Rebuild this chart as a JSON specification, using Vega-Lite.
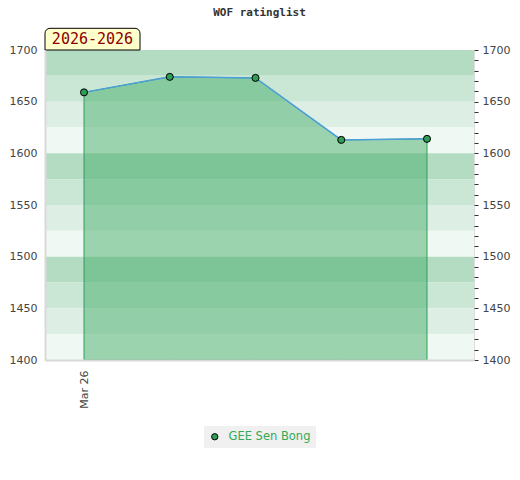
{
  "$schema": "https://vega.github.io/schema/vega-lite/v6.json",
  "autosize": "none",
  "padding": {"left": 45, "top": 50, "right": 46, "bottom": 120},
  "width": 429,
  "height": 310,
  "title": {
    "text": "WOF ratinglist",
    "font": "DejaVu Sans Mono",
    "fontWeight": "bold",
    "fontSize": 11,
    "color": "#333333",
    "frame": "group",
    "offset": 10
  },
  "datasets": {
    "ratings": [
      {"i": 0, "rating": 1659, "player": "GEE Sen Bong"},
      {"i": 1, "rating": 1674, "player": "GEE Sen Bong"},
      {"i": 2, "rating": 1673, "player": "GEE Sen Bong"},
      {"i": 3, "rating": 1613, "player": "GEE Sen Bong"},
      {"i": 4, "rating": 1614, "player": "GEE Sen Bong"}
    ],
    "bands": [
      {"lo": 1675, "hi": 1700, "shade": "a"},
      {"lo": 1650, "hi": 1675, "shade": "b"},
      {"lo": 1625, "hi": 1650, "shade": "c"},
      {"lo": 1600, "hi": 1625, "shade": "d"},
      {"lo": 1575, "hi": 1600, "shade": "a"},
      {"lo": 1550, "hi": 1575, "shade": "b"},
      {"lo": 1525, "hi": 1550, "shade": "c"},
      {"lo": 1500, "hi": 1525, "shade": "d"},
      {"lo": 1475, "hi": 1500, "shade": "a"},
      {"lo": 1450, "hi": 1475, "shade": "b"},
      {"lo": 1425, "hi": 1450, "shade": "c"},
      {"lo": 1400, "hi": 1425, "shade": "d"}
    ]
  },
  "layer": [
    {
      "data": {"name": "bands"},
      "mark": {"type": "rect"},
      "encoding": {
        "y": {
          "field": "lo",
          "type": "quantitative",
          "scale": {"domain": [1400, 1700], "zero": false, "nice": false},
          "axis": {
            "orient": "left",
            "title": null,
            "values": [1400, 1450, 1500, 1550, 1600, 1650, 1700],
            "format": "d",
            "ticks": false,
            "grid": false,
            "labelPadding": 8,
            "domainColor": "#d9d9d9",
            "domainWidth": 2,
            "zindex": 1
          }
        },
        "y2": {"field": "hi"},
        "fill": {
          "field": "shade",
          "type": "nominal",
          "scale": {"domain": ["a", "b", "c", "d"], "range": ["#b3dcc3", "#c9e7d4", "#ddefe4", "#eff8f2"]},
          "legend": null
        }
      }
    },
    {
      "data": {"name": "ratings"},
      "mark": {"type": "area", "fill": "#47ae6a", "fillOpacity": 0.5, "stroke": "#2ea05a", "strokeWidth": 1, "strokeOpacity": 1},
      "encoding": {
        "x": {
          "field": "i",
          "type": "quantitative",
          "scale": {"domain": [-0.455, 4.548], "nice": false, "zero": false},
          "axis": {
            "title": null,
            "values": [0],
            "labelExpr": "'Mar 26'",
            "labelAngle": -90,
            "ticks": false,
            "grid": false,
            "labelPadding": 10,
            "domainColor": "#d9d9d9",
            "domainWidth": 2,
            "zindex": 1
          }
        },
        "y": {"field": "rating", "type": "quantitative", "axis": null},
        "y2": {"datum": 1400}
      }
    },
    {
      "data": {"name": "ratings"},
      "mark": {"type": "line", "color": "#4d9fdc", "strokeWidth": 1.5},
      "encoding": {
        "x": {"field": "i", "type": "quantitative"},
        "y": {
          "field": "rating",
          "type": "quantitative",
          "axis": {
            "orient": "right",
            "title": null,
            "values": [1400, 1410, 1420, 1430, 1440, 1450, 1460, 1470, 1480, 1490, 1500, 1510, 1520, 1530, 1540, 1550, 1560, 1570, 1580, 1590, 1600, 1610, 1620, 1630, 1640, 1650, 1660, 1670, 1680, 1690, 1700],
            "labelExpr": "datum.value % 50 === 0 ? format(datum.value, 'd') : ''",
            "tickSize": 4,
            "tickColor": "#333333",
            "labelPadding": 4,
            "grid": false,
            "domain": false
          }
        }
      }
    },
    {
      "data": {"name": "ratings"},
      "mark": {"type": "point", "filled": true, "size": 50, "stroke": "#000000", "strokeWidth": 1, "opacity": 1},
      "encoding": {
        "x": {"field": "i", "type": "quantitative"},
        "y": {"field": "rating", "type": "quantitative", "axis": null},
        "color": {
          "field": "player",
          "type": "nominal",
          "scale": {"range": ["#2e9e55"]},
          "legend": {
            "title": null,
            "orient": "none",
            "legendX": 159,
            "legendY": 376,
            "fillColor": "#f0f0f0",
            "padding": 5,
            "labelColor": "#33aa58",
            "labelFont": "DejaVu Sans",
            "labelFontSize": 11.5,
            "labelOffset": 8,
            "symbolType": "circle",
            "symbolSize": 40,
            "symbolStrokeColor": "#000000",
            "symbolStrokeWidth": 1
          }
        }
      }
    },
    {
      "data": {"values": [{"label": "2026-2026"}]},
      "mark": {"type": "rect", "fill": "#ffffcc", "stroke": "#000000", "strokeWidth": 1, "cornerRadiusTopLeft": 5, "cornerRadiusTopRight": 5},
      "encoding": {
        "x": {"datum": -0.455, "type": "quantitative"},
        "x2": {"datum": 0.653},
        "y": {"datum": 1700, "type": "quantitative", "axis": null},
        "y2": {"datum": 1721}
      }
    },
    {
      "data": {"values": [{"label": "2026-2026"}]},
      "mark": {"type": "text", "font": "DejaVu Sans Mono", "fontSize": 15, "color": "#8b0000", "align": "center", "baseline": "middle"},
      "encoding": {
        "x": {"datum": 0.099, "type": "quantitative"},
        "y": {"datum": 1710.5, "type": "quantitative", "axis": null},
        "text": {"field": "label"}
      }
    }
  ],
  "config": {
    "view": {"stroke": "#dddddd", "strokeWidth": 1},
    "axis": {
      "labelFont": "DejaVu Sans",
      "labelFontSize": 11,
      "labelColor": "#444444"
    }
  }
}
